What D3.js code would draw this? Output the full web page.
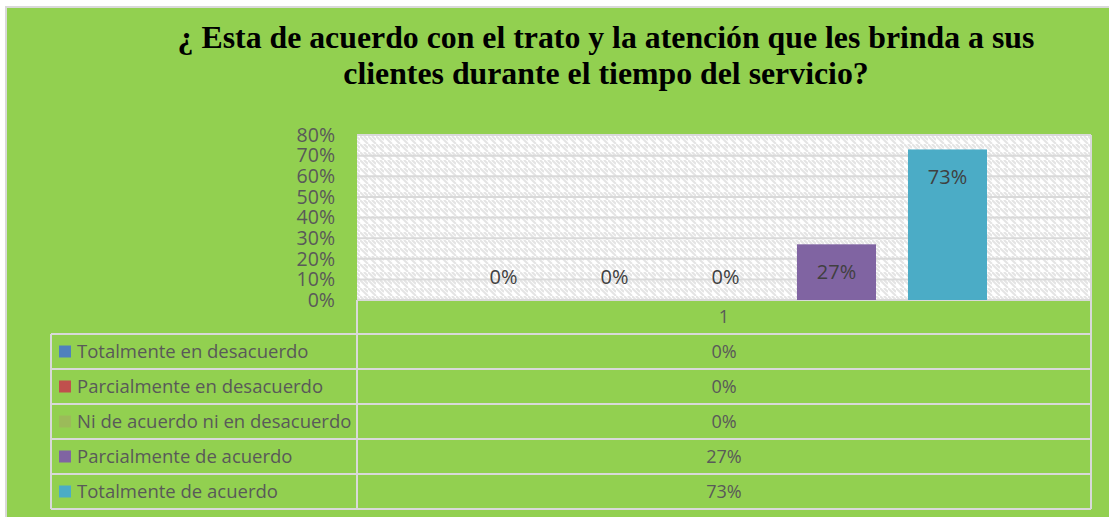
<!DOCTYPE html>
<html><head><meta charset="utf-8">
<script src="https://cdn.jsdelivr.net/npm/d3@7"></script>
<style>html,body{margin:0;padding:0;background:#fff;}svg{display:block;}</style>
</head><body>
<script>
const titleLines = ["¿ Esta de acuerdo con el trato y la atención que les brinda a sus", "clientes durante el tiempo del servicio?"];
const categories = ["1"];
const seriesNames = ["Totalmente en desacuerdo", "Parcialmente en desacuerdo", "Ni de acuerdo ni en desacuerdo", "Parcialmente de acuerdo", "Totalmente de acuerdo"];
const seriesValues = [0, 0, 0, 0.27, 0.73];
const seriesColors = ["#4f81bd", "#c0504d", "#9bbb59", "#8064a2", "#4bacc6"];
const yTicks = [0, 0.1, 0.2, 0.3, 0.4, 0.5, 0.6, 0.7, 0.8];

const W = 1109, H = 517;
const svg = d3.select("body").append("svg").attr("width", W).attr("height", H);
const font = "'Open Sans', sans-serif";
const gray = "#595959";

// outer frame
svg.append("rect").attr("x", 0).attr("y", 0).attr("width", W).attr("height", H).attr("fill", "#fff");
svg.append("rect").attr("x", 6).attr("y", 7).attr("width", W).attr("height", H).attr("fill", "#92d050")
  .attr("stroke", "#d9d9d9").attr("stroke-width", 2);

// title
svg.append("g").selectAll("text").data(titleLines).join("text")
  .attr("x", 606).attr("y", (d, i) => 48 + i * 36)
  .attr("text-anchor", "middle").attr("font-family", "'Liberation Serif', 'Times New Roman', serif")
  .attr("font-weight", "bold").attr("font-size", 31.8).attr("fill", "#000").text(d => d);

// pattern
const defs = svg.append("defs");
const pat = defs.append("pattern").attr("id", "hatch").attr("patternUnits", "userSpaceOnUse")
  .attr("width", 8).attr("height", 8);
pat.append("rect").attr("width", 8).attr("height", 8).attr("fill", "#fff");
pat.append("path").attr("d", "M0,0 L8,8 M-4,4 L0,8 M4,0 L8,4").attr("stroke", "#e4e4e4").attr("stroke-width", 2);

const plot = {x0: 357, x1: 1091, y0: 135, y1: 300};
const y = d3.scaleLinear().domain([0, 0.8]).range([plot.y1, plot.y0]);
const x0 = d3.scaleBand().domain(categories).range([plot.x0, plot.x1]);
const groupW = 555;
const x1 = d3.scaleBand().domain(seriesNames)
  .range([x0.bandwidth() / 2 - groupW / 2 + 1.5, x0.bandwidth() / 2 + groupW / 2 + 1.5])
  .paddingInner(0.288).paddingOuter(0.144);

svg.append("rect").attr("x", plot.x0).attr("y", plot.y0).attr("width", plot.x1 - plot.x0)
  .attr("height", plot.y1 - plot.y0).attr("fill", "url(#hatch)");

// gridlines
svg.append("g").selectAll("line").data(yTicks).join("line")
  .attr("x1", plot.x0).attr("x2", plot.x1).attr("y1", d => y(d)).attr("y2", d => y(d))
  .attr("stroke", "#d9d9d9").attr("stroke-width", 2);
svg.append("line").attr("x1", plot.x1).attr("x2", plot.x1).attr("y1", plot.y0).attr("y2", plot.y1)
  .attr("stroke", "#d9d9d9").attr("stroke-width", 2);

// y axis
const yAxis = svg.append("g").attr("transform", `translate(${plot.x0 - 22},0)`)
  .call(d3.axisLeft(y).tickValues(yTicks).tickFormat(d3.format(".0%")).tickSize(0).tickPadding(0));
yAxis.select(".domain").remove();
yAxis.selectAll("text").attr("font-family", font).attr("font-size", 19.5).attr("fill", gray).attr("dy", "0.32em");

// bars
const g = svg.append("g");
categories.forEach(c => {
  seriesNames.forEach((s, i) => {
    const v = seriesValues[i];
    const bx = x0(c) + x1(s);
    g.append("rect").attr("x", bx).attr("y", y(v)).attr("width", x1.bandwidth())
      .attr("height", y(0) - y(v)).attr("fill", seriesColors[i]);
    const ly = v > 0.05 ? y(v) + 28 : y(0) - 22;
    g.append("text").attr("x", bx + x1.bandwidth() / 2).attr("y", ly).attr("text-anchor", "middle")
      .attr("dy", "0.32em").attr("font-family", font).attr("font-size", 20).attr("fill", "#404040")
      .text(d3.format(".0%")(v));
  });
});

// data table
const tbl = {x0: 51, xm: 357, x1: 1091, top: 300, hdrH: 34, rowH: 35};
const rowsTop = tbl.top + tbl.hdrH;
const tg = svg.append("g");
const lineStyle = sel => sel.attr("stroke", "#d9d9d9").attr("stroke-width", 2);
// header
tg.append("text").attr("x", (tbl.xm + tbl.x1) / 2).attr("y", tbl.top + tbl.hdrH / 2).attr("dy", "0.35em")
  .attr("text-anchor", "middle").attr("font-family", font).attr("font-size", 18).attr("fill", gray).text(categories[0]);
tg.append("line").attr("x1", tbl.xm).attr("x2", tbl.xm).attr("y1", tbl.top).attr("y2", rowsTop + tbl.rowH * seriesNames.length).call(lineStyle);
tg.append("line").attr("x1", tbl.x1).attr("x2", tbl.x1).attr("y1", tbl.top).attr("y2", rowsTop + tbl.rowH * seriesNames.length).call(lineStyle);
tg.append("line").attr("x1", tbl.x0).attr("x2", tbl.x0).attr("y1", rowsTop).attr("y2", rowsTop + tbl.rowH * seriesNames.length).call(lineStyle);
d3.range(seriesNames.length + 1).forEach(i => {
  tg.append("line").attr("x1", tbl.x0).attr("x2", tbl.x1).attr("y1", rowsTop + i * tbl.rowH).attr("y2", rowsTop + i * tbl.rowH).call(lineStyle);
});
seriesNames.forEach((s, i) => {
  const cy = rowsTop + i * tbl.rowH + tbl.rowH / 2;
  tg.append("rect").attr("x", 59).attr("y", cy - 6).attr("width", 12).attr("height", 12).attr("fill", seriesColors[i]);
  tg.append("text").attr("x", 77).attr("y", cy).attr("dy", "0.35em").attr("font-family", font)
    .attr("font-size", 18.5).attr("fill", gray).text(s);
  tg.append("text").attr("x", (tbl.xm + tbl.x1) / 2).attr("y", cy).attr("dy", "0.35em").attr("text-anchor", "middle")
    .attr("font-family", font).attr("font-size", 18).attr("fill", gray).text(d3.format(".0%")(seriesValues[i]));
});
</script>
</body></html>
